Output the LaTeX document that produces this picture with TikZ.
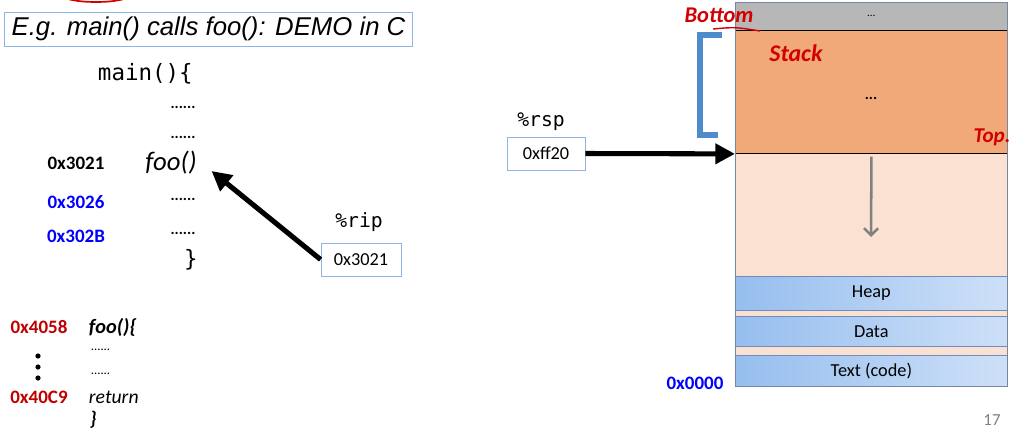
\documentclass[tikz,border=0pt]{standalone}
\usepackage{fontspec}
\setmainfont{Carlito}
\setsansfont{Liberation Sans}
\setmonofont{DejaVu Sans Mono}
\usetikzlibrary{positioning, arrows.meta, calc}

\definecolor{addrblue}{RGB}{0,0,255}
\definecolor{addrred}{RGB}{192,0,0}
\definecolor{inkred}{RGB}{210,0,0}
\definecolor{boxblue}{RGB}{142,180,227}
\definecolor{brblue}{RGB}{79,138,203}
\definecolor{stackor}{RGB}{241,169,122}
\definecolor{peach}{RGB}{250,225,210}
\definecolor{topgray}{RGB}{183,183,183}
\definecolor{segblueA}{RGB}{150,190,238}
\definecolor{segblueB}{RGB}{206,224,248}
\definecolor{segline}{RGB}{110,140,190}
\definecolor{memline}{RGB}{120,135,160}

\tikzset{
  regbox/.style={draw=boxblue, line width=0.6pt, inner sep=0pt, minimum height=0.825cm, font=\fontsize{13}{15}\selectfont},
  regname/.style={font=\ttfamily\fontsize{14}{16}\selectfont},
  addr/.style={font=\bfseries\fontsize{13.5}{15}\selectfont},
  dots/.style={font=\bfseries\fontsize{11}{12}\selectfont},
  bigarrow/.style={line width=3.6pt, -{Triangle[length=14pt,width=14pt]}},
  seg/.style={anchor=north west, inner sep=0pt, minimum width=6.8cm, draw=segline, line width=0.5pt,
    left color=segblueA, right color=segblueB, font=\fontsize{13}{15}\selectfont},
  ink/.style={text=inkred, font=\itshape\bfseries\fontsize{15}{16}\selectfont}
}

\begin{document}
\begin{tikzpicture}[x=0.025cm, y=-0.025cm]
    \useasboundingbox (0,0) rectangle (1016,436);
    % cut-off mark above the title
    \draw[inkred, line width=1.2pt] (62,-5) arc[start angle=180, end angle=0, x radius=34, y radius=7];

    % title
    \node[draw=boxblue, line width=0.7pt, minimum width=10.175cm, minimum height=0.85cm, inner sep=0pt,
      font=\sffamily\itshape\fontsize{18.3}{20}\selectfont] (title) at (208.5,29) {E.g. main() calls foo(): DEMO in C};

    % main()
    \node[anchor=west, font=\ttfamily\fontsize{16}{18}\selectfont] (mainhead) at (93,74) {main()\{};
    \foreach \y in {110,140,202,236} {
        \node[dots] at (183,\y-3) {......};
    }
    \node[font=\itshape\fontsize{19}{21}\selectfont] (foo) at (171,163) {foo()};
    \node[font=\ttfamily\fontsize{16}{18}\selectfont] (mainend) at (191,260) {\}};
    \node[addr] (a3021) at (76,163) {0x3021};
    \node[addr, text=addrblue] (a3026) at (76,202) {0x3026};
    \node[addr, text=addrblue] (a302b) at (76,236) {0x302B};

    % %rip register
    \node[regname] (ripname) at (359,222) {\%rip};
    \node[regbox, minimum width=2cm] (ripbox) at (361,259.5) {0x3021};
    \draw[bigarrow, shorten >=9pt] (ripbox.west) -- (foo.east);

    % foo()
    \node[addr, text=addrred] (a4058) at (39,327) {0x4058};
    \node[addr, text=addrred] (a40c9) at (39,397) {0x40C9};
    \node[anchor=west, font=\bfseries\itshape\fontsize{14.5}{16}\selectfont] (foohead) at (84,327) {foo()\{};
    \node[anchor=west, font=\itshape\fontsize{14}{16}\selectfont] (fooret) at (84,397) {return};
    \node[anchor=west, font=\bfseries\itshape\fontsize{14}{16}\selectfont] (fooend) at (85,420) {\}};
    \foreach \y in {353,377} {
        \node[dots, anchor=west, font=\fontsize{9}{10}\selectfont] at (86,\y-3) {......};
    }
    \foreach \y in {356,367,378} {
        \fill (38,\y) circle[radius=2.6];
    }

    % memory layout
    \fill[peach] (735,153) rectangle (1007,386);
    \node[anchor=north west, inner sep=0pt, minimum width=6.8cm, minimum height=0.7cm, fill=topgray,
      font=\fontsize{8}{9}\selectfont] (upper) at (735,2) {...};
    \node[anchor=north west, inner sep=0pt, minimum width=6.8cm, minimum height=3.075cm, fill=stackor,
      draw=black, line width=0.6pt] (stack) at (735,30) {};
    \node[font=\bfseries\fontsize{11}{12}\selectfont] (stackdots) at (871,98) {...};
    \node[seg, minimum height=0.85cm] (heap) at (735,276) {Heap};
    \node[seg, minimum height=0.75cm] (data) at (735,316) {Data};
    \node[seg, minimum height=0.775cm] (text) at (735,355) {Text (code)};
    \draw[memline, line width=0.6pt] (735,2) rectangle (1007,386);
    \coordinate (growend) at (871,237);
    \draw[gray, line width=1.8pt, -{Straight Barb[length=5pt,width=10pt]}] ([yshift=-2pt]stack.south) -- (growend);
    \node[addr, text=addrblue] (a0000) at (695,383) {0x0000};

    % %rsp register
    \node[regname] (rspname) at (541,122) {\%rsp};
    \node[regbox, minimum width=1.95cm] (rspbox) at (546,153.5) {0xff20};
    \draw[bigarrow] (rspbox.east) -- (stack.south west);

    % bracket and notes
    \draw[brblue, line width=3.6pt] (722,35) -- (700,35) -- (700,135) -- (718,135);
    \node[ink, font=\itshape\bfseries\fontsize{16}{17}\selectfont] (bottomnote) at (719,15) {Bottom};
    \draw[inkred, line width=1pt] (713,29) .. controls (735,27) .. (760,31);
    \node[ink, font=\itshape\bfseries\fontsize{17}{18}\selectfont] (stacknote) at (796,53) {Stack};
    \node[ink] (topnote) at (992,137) {Top.};

    \node[text=gray, font=\fontsize{12}{13}\selectfont] (pagenum) at (992,420) {17};
\end{tikzpicture}
\end{document}
